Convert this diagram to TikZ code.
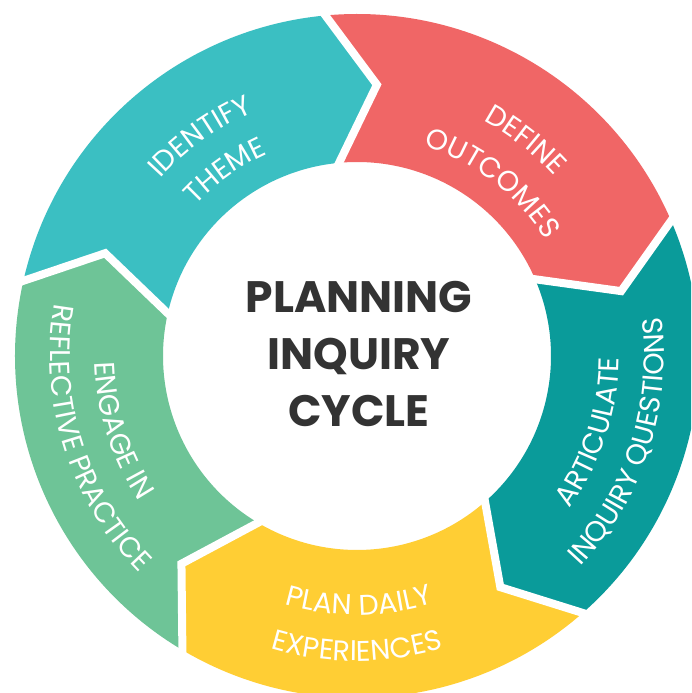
\documentclass[tikz,border=0pt]{standalone}
\usepackage{fontspec}
\setmainfont{Poppins}
\usetikzlibrary{calc,decorations.text}
\definecolor{cteal}{HTML}{3BBFC2}
\definecolor{cred}{HTML}{F06666}
\definecolor{cdteal}{HTML}{0A9B9A}
\definecolor{cyellow}{HTML}{FFCE34}
\definecolor{cgreen}{HTML}{6EC497}
\definecolor{ctext}{HTML}{333333}
\newcommand\lblfont{\fontsize{28.5}{32}\selectfont}
\newcommand\myarctext[4]{%
  \pgfmathsetmacro\sa{#1-50*#4}%
  \pgfmathsetmacro\ea{#1+50*#4}%
  \path[decorate,decoration={text along path,text={|\lblfont|#3},text align=center,text color=white}]
    ($(C)+(\sa:#2pt)$) arc[start angle=\sa,end angle=\ea,radius=#2pt];%
}
\tikzset{
  gap/.style={white,line width=8pt,line join=miter},
  title/.style={text=ctext,font=\fontsize{44}{50}\selectfont\bfseries,anchor=base,inner sep=0pt}
}
\begin{document}
\begin{tikzpicture}[x=1pt,y=1pt]
\useasboundingbox (0,0) rectangle (691,693);
\fill[white] (0,0) rectangle (691,693);
\clip (0,0) rectangle (691,693);
\coordinate (C) at (357,337);
\foreach \b/\col in {167.3/cteal,95.3/cred,23.3/cdteal,-48.7/cyellow,-120.7/cgreen}{
  \pgfmathsetmacro\e{\b-72}
  \pgfmathsetmacro\et{\b-72-9.5}
  \pgfmathsetmacro\bt{\b-9.5}
  \fill[\col] ($(C)+(\b:342pt)$) arc[start angle=\b,end angle=\e,radius=342pt]
    -- ($(C)+(\et:272pt)$) -- ($(C)+(\e:194pt)$)
    arc[start angle=\e,end angle=\b,radius=194pt]
    -- ($(C)+(\bt:272pt)$) -- cycle;
}
\foreach \b in {167.3,95.3,23.3,-48.7,-120.7}{
  \pgfmathsetmacro\bt{\b-9.5}
  \coordinate (go) at ($(C)+(\b:342pt)$);
  \coordinate (gt) at ($(C)+(\bt:272pt)$);
  \coordinate (gi) at ($(C)+(\b:194pt)$);
  \draw[gap] ($(gt)!1.3!(go)$) -- (gt) -- ($(gt)!1.3!(gi)$);
}
% labels
\myarctext{125.5}{265}{IDENTIFY}{-1}
\myarctext{125.5}{221}{THEME}{-1}
\myarctext{52}{267}{DEFINE}{-1}
\myarctext{52}{221}{OUTCOMES}{-1}
\myarctext{-18}{262}{ARTICULATE}{1}
\myarctext{-18}{307}{INQUIRY QUESTIONS}{1}
\myarctext{-89.5}{259}{PLAN DAILY}{1}
\myarctext{-90}{305}{EXPERIENCES}{1}
\myarctext{197.5}{262}{ENGAGE IN}{1}
\myarctext{197.5}{307}{REFLECTIVE PRACTICE}{1}
% title
\node[title] (t1) at (359,380) {PLANNING};
\node[title] (t2) at (359,323) {INQUIRY};
\node[title] (t3) at (359,266) {CYCLE};
\end{tikzpicture}
\end{document}
